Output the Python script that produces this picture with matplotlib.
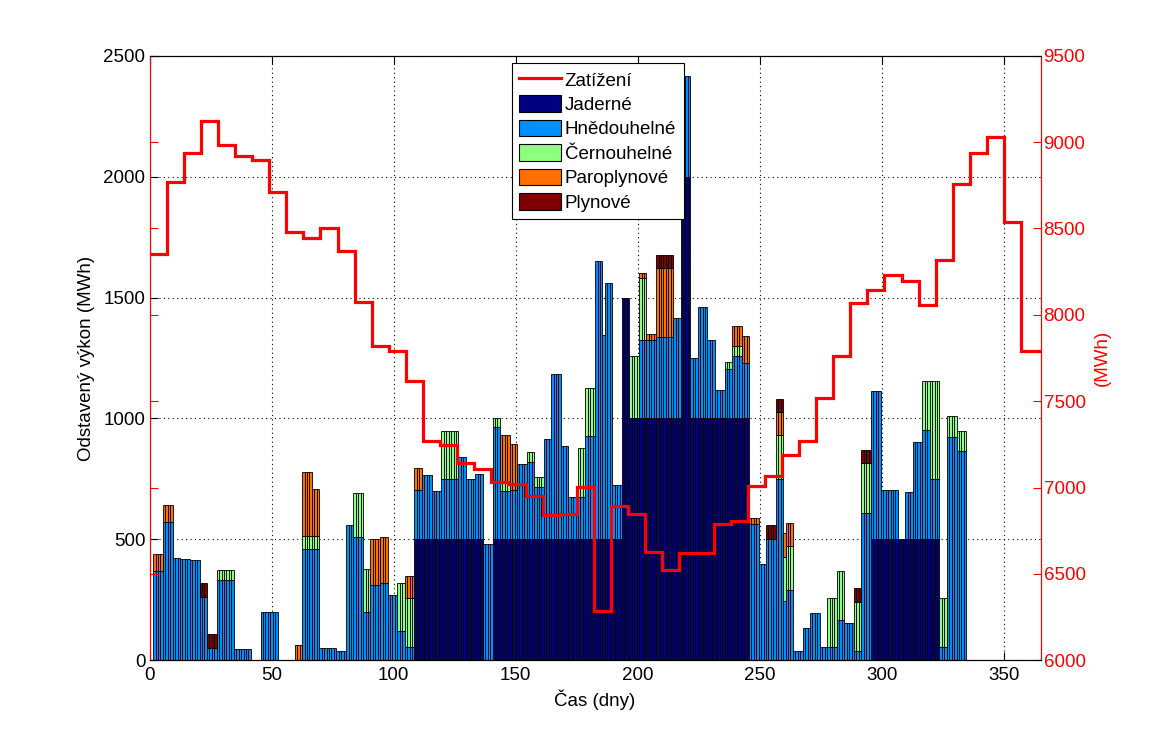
import numpy as np
import matplotlib
matplotlib.use("Agg")
import matplotlib.pyplot as plt
from matplotlib.patches import Patch
from matplotlib.lines import Line2D

plt.rcParams['font.family'] = ['Liberation Sans', 'DejaVu Sans']

# ---- outage data: runs of days with constant values (MWh) ----
seg_start = [2, 6, 10, 13, 17, 21, 24, 28, 35, 46, 60, 63, 67, 70, 77, 81, 84, 88, 91, 95,
             98, 102, 105, 109, 112, 116, 120, 127, 130, 134, 137, 141, 144, 148, 151, 155,
             158, 162, 165, 169, 172, 176, 179, 183, 186, 187, 190, 194, 197, 201, 204, 208,
             215, 218, 222, 225, 229, 232, 236, 239, 243, 246, 250, 253, 257, 260, 261, 264,
             268, 271, 275, 278, 282, 285, 289, 292, 296, 300, 307, 310, 313, 317, 320, 324,
             327, 331]
seg_end = [5, 9, 12, 16, 20, 23, 27, 34, 41, 52, 62, 66, 69, 76, 80, 83, 87, 90, 94, 97,
           101, 104, 108, 111, 115, 119, 126, 129, 133, 136, 140, 143, 147, 150, 154, 157,
           161, 164, 168, 171, 175, 178, 182, 185, 186, 189, 193, 196, 200, 203, 207, 214,
           217, 221, 224, 228, 231, 235, 238, 242, 245, 249, 252, 256, 259, 260, 263, 267,
           270, 274, 277, 281, 284, 288, 291, 295, 299, 306, 309, 312, 316, 319, 323, 326,
           330, 334]
nuclear = [0, 0, 0, 0, 0, 0, 0, 0, 0, 0, 0, 0, 0, 0, 0, 0, 0, 0, 0, 0,
           0, 0, 0, 500, 500, 500, 500, 500, 500, 500, 0, 500, 500, 500, 500, 500,
           500, 500, 500, 500, 500, 500, 500, 500, 500, 500, 500, 1500, 1000, 1000, 1000, 1000,
           1000, 2000, 1000, 1000, 1000, 1000, 1000, 1000, 1000, 0, 0, 0, 0, 0, 0, 0,
           0, 0, 0, 0, 0, 0, 0, 0, 500, 500, 500, 500, 500, 500, 500, 0,
           0, 0]
brown = [370, 574, 424, 420, 413, 264, 51, 332, 49, 199, 0, 461, 461, 53, 40, 558, 511, 199, 311, 319,
         269, 121, 56, 204, 265, 200, 249, 340, 249, 269, 482, 464, 201, 204, 311, 319,
         215, 415, 685, 386, 174, 174, 428, 1150, 845, 1060, 224, 0, 0, 323, 323, 336,
         414, 415, 248, 459, 326, 116, 204, 260, 229, 565, 400, 503, 750, 246, 290, 40,
         132, 194, 57, 57, 169, 153, 40, 611, 615, 203, 0, 198, 404, 454, 249, 57,
         924, 867]
black_coal = [0, 0, 0, 0, 0, 0, 0, 42, 0, 0, 0, 54, 54, 0, 0, 0, 179, 179, 0, 0,
              0, 198, 200, 0, 0, 0, 200, 0, 0, 0, 0, 39, 38, 0, 0, 43,
              42, 0, 0, 0, 0, 204, 200, 0, 0, 0, 0, 0, 257, 257, 0, 0,
              0, 0, 0, 0, 0, 0, 31, 38, 0, 0, 0, 0, 182, 182, 184, 0,
              0, 0, 0, 200, 200, 0, 203, 203, 0, 0, 0, 0, 0, 199, 404, 200,
              87, 82]
ccgt = [70, 70, 0, 0, 0, 0, 0, 0, 0, 0, 65, 263, 192, 0, 0, 0, 0, 0, 192, 193,
        0, 0, 93, 90, 0, 0, 0, 0, 0, 0, 0, 0, 193, 190, 0, 0,
        0, 0, 0, 0, 0, 0, 0, 0, 0, 0, 0, 0, 0, 20, 25, 285,
        0, 0, 0, 0, 0, 0, 0, 86, 111, 25, 0, 0, 96, 97, 95, 0,
        0, 0, 0, 0, 0, 0, 0, 0, 0, 0, 0, 0, 0, 0, 0, 0,
        0, 0]
gas = [0, 0, 0, 0, 0, 55, 56, 0, 0, 0, 0, 0, 0, 0, 0, 0, 0, 0, 0, 0,
       0, 0, 0, 0, 0, 0, 0, 0, 0, 0, 0, 0, 0, 0, 0, 0,
       0, 0, 0, 0, 0, 0, 0, 0, 0, 0, 0, 0, 0, 0, 0, 56,
       0, 0, 0, 0, 0, 0, 0, 0, 0, 0, 0, 55, 54, 0, 0, 0,
       0, 0, 0, 0, 0, 0, 56, 55, 0, 0, 0, 0, 0, 0, 0, 0,
       0, 0]

# ---- weekly load (MWh); last value covers the final day ----
week_edges = list(range(0, 365, 7)) + [365]
load = [8350, 8768, 8937, 9122, 8983, 8919, 8896, 8710, 8478, 8444, 8502, 8368, 8072,
        7822, 7788, 7619, 7270, 7248, 7143, 7106, 7032, 7019, 6951, 6842, 6847, 7003,
        6288, 6892, 6850, 6630, 6525, 6619, 6619, 6791, 6805, 7011, 7066, 7186, 7270,
        7521, 7764, 8066, 8141, 8228, 8194, 8054, 8316, 8757, 8937, 9030, 8536, 7788, 7788]

series_names = ['Jaderné', 'Hnědouhelné', 'Černouhelné', 'Paroplynové', 'Plynové']
colors = [(0, 0, 0.5), (0, 0.5625, 1), (0.5625, 1, 0.5), (1, 0.4375, 0), (0.5, 0, 0)]

# expand runs to daily arrays
n_days = 365
days = np.arange(1, n_days + 1)
daily = np.zeros((5, n_days))
for i, (s, e) in enumerate(zip(seg_start, seg_end)):
    for k, arr in enumerate([nuclear, brown, black_coal, ccgt, gas]):
        daily[k, s - 1:e] = arr[i]

FS = 13.5
fig = plt.figure(figsize=(11.5, 7.42), dpi=100)
ax1 = fig.add_axes([0.13, 0.11, 0.775, 0.815])
ax2 = ax1.twinx()

bottom = np.zeros(n_days)
for k in range(5):
    h = daily[k]
    m = h > 0
    ax1.bar(days[m], h[m], width=1.0, bottom=bottom[m], color=colors[k],
            edgecolor='black', linewidth=0.6, zorder=2)
    bottom += h

ax2.stairs(load, week_edges, baseline=None, color='red', linewidth=2.3, zorder=5)

ax1.set_xlim(0, 365)
ax1.set_ylim(0, 2500)
ax2.set_ylim(6000, 9500)
ax2.set_xlim(0, 365)
ax1.set_xticks(np.arange(0, 351, 50))
ax1.set_yticks(np.arange(0, 2501, 500))
ax2.set_yticks(np.arange(6000, 9501, 500))

ax1.set_axisbelow(True)
ax1.grid(True, linestyle=(0, (1, 3)), color='black', linewidth=0.8)

ax1.tick_params(axis='both', direction='in', length=6, labelsize=FS, top=True,
                colors='black')
ax1.tick_params(axis='y', right=False, pad=3)
ax1.tick_params(axis='x', pad=5)
ax2.yaxis.set_ticks_position('both')
ax2.tick_params(axis='y', direction='in', length=6, labelsize=FS, colors='red',
                labelleft=False, labelright=True, pad=2)

for sp in ['left', 'right']:
    ax2.spines[sp].set_color('red')
    ax1.spines[sp].set_color('red')

ax1.set_xlabel('Čas (dny)', fontsize=FS, labelpad=4)
ax1.set_ylabel('Odstavený výkon (MWh)', fontsize=FS, labelpad=6)
ax2.set_ylabel('(MWh)', fontsize=FS, color='red', labelpad=6)

handles = [Line2D([0], [0], color='red', linewidth=2.3)]
handles += [Patch(facecolor=c, edgecolor='black', linewidth=0.8) for c in colors]
labels = ['Zatížení'] + series_names
leg = ax2.legend(handles, labels, loc='upper left', bbox_to_anchor=(0.4065, 0.9874),
                 fontsize=FS, frameon=True, fancybox=False, edgecolor='black',
                 framealpha=1, handlelength=2.25, handleheight=1.0, labelspacing=0.3,
                 borderpad=0.4, handletextpad=0.18, borderaxespad=0)
leg.get_frame().set_linewidth(0.8)

fig.savefig('out.png', dpi=100)
